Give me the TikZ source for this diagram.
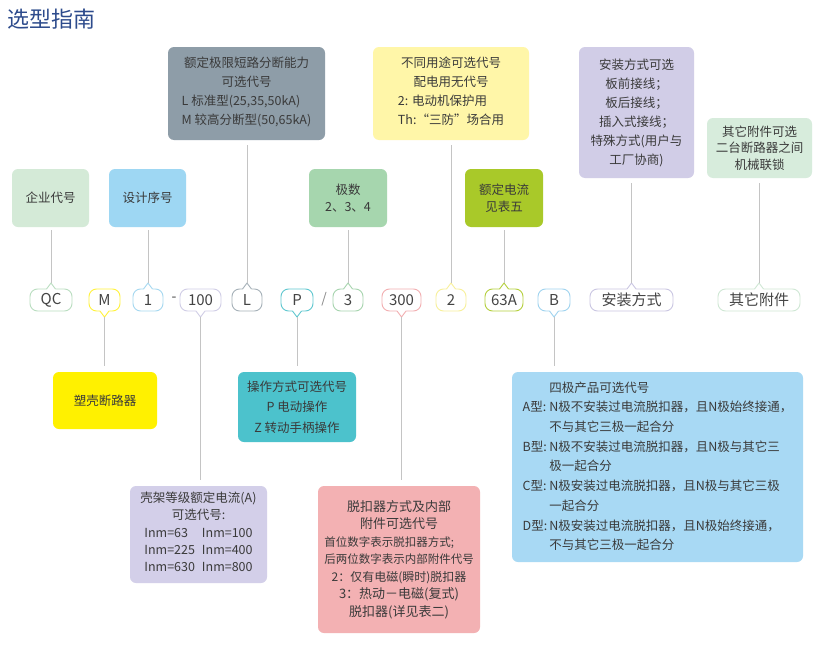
\documentclass[tikz,border=0pt]{standalone}
\usepackage{fontspec}
\setmainfont{Noto Sans CJK SC}
\definecolor{txt}{HTML}{3A3A3A}
\definecolor{tagtxt}{HTML}{444444}
\definecolor{linegray}{HTML}{C4C4C4}
\definecolor{titleblue}{HTML}{2D4B8C}
\definecolor{cGray}{HTML}{8E9DA8}
\definecolor{cYel}{HTML}{FFF6A8}
\definecolor{cPur}{HTML}{D1CDE7}
\definecolor{cLGreen}{HTML}{D7ECDC}
\definecolor{cLime}{HTML}{A9C929}
\definecolor{cGreen}{HTML}{A6D6AE}
\definecolor{cQiye}{HTML}{D4EAD7}
\definecolor{cSheji}{HTML}{9ED7F3}
\definecolor{cYellow}{HTML}{FFF100}
\definecolor{cTeal}{HTML}{4CC2CC}
\definecolor{cKejia}{HTML}{D3CFE9}
\definecolor{cPink}{HTML}{F3B1B3}
\definecolor{cSiji}{HTML}{A8D9F4}
\definecolor{oQC}{HTML}{B9DDC0}
\definecolor{oM}{HTML}{FFF23A}
\definecolor{o1}{HTML}{A5D8F0}
\definecolor{o100}{HTML}{D0CDE6}
\definecolor{oL}{HTML}{A5B0B8}
\definecolor{oP}{HTML}{5EC7CF}
\definecolor{o3}{HTML}{A6D4AE}
\definecolor{o300}{HTML}{F2AEB0}
\definecolor{o2}{HTML}{F8F09A}
\definecolor{o63}{HTML}{B4CF3C}
\definecolor{oB}{HTML}{9FD3EF}
\definecolor{oAZ}{HTML}{CAC6E2}
\definecolor{oQT}{HTML}{CFE7D4}
\newcommand\tagU[2]{%
  \draw[draw=#2,line width=0.9pt,rounded corners=7.5pt] (#1.north west) rectangle (#1.south east);
  \fill[white] ([xshift=-4.5pt,yshift=-1.2pt]#1.north) -- ([xshift=-4.5pt,yshift=0.3pt]#1.north) -- ([yshift=6pt]#1.north) -- ([xshift=4.5pt,yshift=0.3pt]#1.north) -- ([xshift=4.5pt,yshift=-1.2pt]#1.north) -- cycle;
  \draw[draw=#2,line width=0.9pt,line join=round] ([xshift=-4.5pt]#1.north) -- ([yshift=6pt]#1.north) -- ([xshift=4.5pt]#1.north);
  \coordinate (#1-tip) at ([yshift=6pt]#1.north);}
\newcommand\tagD[2]{%
  \draw[draw=#2,line width=0.9pt,rounded corners=7.5pt] (#1.north west) rectangle (#1.south east);
  \fill[white] ([xshift=-4.5pt,yshift=1.2pt]#1.south) -- ([xshift=-4.5pt,yshift=-0.3pt]#1.south) -- ([yshift=-6pt]#1.south) -- ([xshift=4.5pt,yshift=-0.3pt]#1.south) -- ([xshift=4.5pt,yshift=1.2pt]#1.south) -- cycle;
  \draw[draw=#2,line width=0.9pt,line join=round] ([xshift=-4.5pt]#1.south) -- ([yshift=-6pt]#1.south) -- ([xshift=4.5pt]#1.south);
  \coordinate (#1-tip) at ([yshift=-6pt]#1.south);}
\newcommand\smallline{\fontsize{11.5}{17.5}\selectfont}
\newcommand\midline{\fontsize{12}{17.5}\selectfont}
\newcommand\firstline[1]{\makebox[13em][l]{#1}}
\begin{document}
\begin{tikzpicture}[x=1pt,y=-1pt,
  box/.style={rounded corners=6pt, inner sep=0pt, outer sep=0pt, text=txt, align=center,
    font=\fontsize{12.5}{19}\selectfont},
  tagn/.style={inner sep=0pt, outer sep=0pt, minimum height=22pt, text=tagtxt,
    font=\fontsize{15}{17}\selectfont},
  sepn/.style={inner sep=0pt, text=tagtxt, font=\fontsize{14}{16}\selectfont},
  conn/.style={draw=linegray, line width=0.9pt}]
\useasboundingbox (0,0) rectangle (836,656);
\fill[white] (0,0) rectangle (836,656);

\node[anchor=west, inner sep=0pt, text=titleblue, font=\fontsize{22}{24}\selectfont] (title) at (7,19) {选型指南};

% top boxes
\node[box, fill=cQiye, minimum width=77pt, minimum height=58pt] (qiye) at (50.5,198) {企业代号};
\node[box, fill=cSheji, minimum width=77pt, minimum height=58pt] (sheji) at (147.5,198) {设计序号};
\node[box, fill=cGray, minimum width=157pt, minimum height=93pt] (duanlu) at (246.5,93.5)
  {额定极限短路分断能力\\可选代号\\\begin{tabular}[t]{@{}l@{}}L 标准型(25,35,50kA)\\M 较高分断型(50,65kA)\end{tabular}};
\node[box, fill=cGreen, minimum width=78pt, minimum height=58pt, font=\fontsize{12.5}{16.5}\selectfont] (jishu) at (348,198) {极数\\2、3、4};
\node[box, fill=cYel, minimum width=156pt, minimum height=93pt] (yongtu) at (451,93.5)
  {不同用途可选代号\\配电用无代号\\\begin{tabular}[t]{@{}l@{}}2: 电动机保护用\\Th:“三防”场合用\end{tabular}};
\node[box, fill=cLime, minimum width=78pt, minimum height=58pt, font=\fontsize{12.5}{17}\selectfont] (dianliu) at (504,198) {额定电流\\见表五};
\node[box, fill=cPur, minimum width=115pt, minimum height=131pt] (anzhuang) at (636.5,112.5)
  {安装方式可选\\板前接线；\\板后接线；\\插入式接线；\\特殊方式(用户与\\工厂协商)};
\node[box, fill=cLGreen, minimum width=105pt, minimum height=60pt, font=\fontsize{12.5}{16.5}\selectfont] (qita) at (759.5,148)
  {其它附件可选\\二台断路器之间\\机械联锁};

% tags
\node[tagn, minimum width=42pt] (qc) at (51,300) {QC};
\node[tagn, minimum width=31pt] (m) at (104.5,300) {M};
\node[tagn, minimum width=30pt] (t1) at (148,300) {1};
\node[sepn] (dash) at (174,299) {-};
\node[tagn, minimum width=41pt] (t100) at (200.5,300) {100};
\node[tagn, minimum width=30pt] (tl) at (247,300) {L};
\node[tagn, minimum width=32pt] (tp) at (297,300) {P};
\node[sepn, text=linegray!70!black] (slash) at (324,299) {/};
\node[tagn, minimum width=30pt] (t3) at (348,300) {3};
\node[tagn, minimum width=39pt] (t300) at (401.5,300) {300};
\node[tagn, minimum width=30pt] (t2) at (451,300) {2};
\node[tagn, minimum width=38pt] (t63) at (504,300) {63A};
\node[tagn, minimum width=32pt] (tb) at (554,300) {B};
\node[tagn, minimum width=83pt] (taz) at (631.5,300) {安装方式};
\node[tagn, minimum width=82pt] (tqt) at (759,300) {其它附件};

\tagU{qc}{oQC}
\tagD{m}{oM}
\tagU{t1}{o1}
\tagD{t100}{o100}
\tagU{tl}{oL}
\tagD{tp}{oP}
\tagU{t3}{o3}
\tagD{t300}{o300}
\tagU{t2}{o2}
\tagU{t63}{o63}
\tagD{tb}{oB}
\tagU{taz}{oAZ}
\tagU{tqt}{oQT}

% bottom boxes
\node[box, fill=cYellow, minimum width=104pt, minimum height=57pt] (suke) at (105,400.5) {塑壳断路器};
\node[box, fill=cTeal, minimum width=118pt, minimum height=70pt, font=\fontsize{12.5}{20.5}\selectfont] (caozuo) at (297,407)
  {操作方式可选代号\\P 电动操作\\Z 转动手柄操作};
\node[box, fill=cKejia, minimum width=137pt, minimum height=97pt, font=\fontsize{12.5}{17.3}\selectfont] (kejia) at (198.5,534.5)
  {壳架等级额定电流(A)\\可选代号:\\\begin{tabular}[t]{@{}l@{\hspace{7pt}}l@{}}Inm=63 & Inm=100\\Inm=225 & Inm=400\\Inm=630 & Inm=800\end{tabular}};
\node[box, fill=cPink, minimum width=162pt, minimum height=147pt, font=\fontsize{13}{17.5}\selectfont] (tuokou) at (399,559.5)
  {脱扣器方式及内部\\附件可选代号\\\smallline\firstline{首位数字表示脱扣器方式;}\\\smallline 后两位数字表示内部附件代号\\\midline 2：仅有电磁(瞬时)脱扣器\\3：热动－电磁(复式)\\脱扣器(详见表二)};
\node[box, fill=cSiji, minimum width=291pt, minimum height=190pt, font=\fontsize{12.5}{19.7}\selectfont] (siji) at (657.5,467)
  {\begin{tabular}{@{}l@{\hspace{2pt}}l@{}}
   & 四极产品可选代号\\
   A型: & N极不安装过电流脱扣器，且N极始终接通，\\
   & 不与其它三极一起合分\\
   B型: & N极不安装过电流脱扣器，且N极与其它三\\
   & 极一起合分\\
   C型: & N极安装过电流脱扣器，且N极与其它三极\\
   & 一起合分\\
   D型: & N极安装过电流脱扣器，且N极始终接通，\\
   & 不与其它三极一起合分
   \end{tabular}};

% connectors from top
\draw[conn, shorten <=3pt] (qiye.south -| qc-tip) -- (qc-tip);
\draw[conn, shorten <=3pt] (sheji.south -| t1-tip) -- (t1-tip);
\draw[conn, shorten <=5pt] (duanlu.south -| tl-tip) -- (tl-tip);
\draw[conn, shorten <=3pt] (jishu.south -| t3-tip) -- (t3-tip);
\draw[conn, shorten <=5pt] (yongtu.south -| t2-tip) -- (t2-tip);
\draw[conn, shorten <=3pt] (dianliu.south -| t63-tip) -- (t63-tip);
\draw[conn, shorten <=5pt] (anzhuang.south -| taz-tip) -- (taz-tip);
\draw[conn, shorten <=5pt] (qita.south -| tqt-tip) -- (tqt-tip);
% connectors to bottom
\draw[conn, shorten >=6pt] (m-tip) -- (m-tip |- suke.north);
\draw[conn, shorten >=6pt] (t100-tip) -- (t100-tip |- kejia.north);
\draw[conn, shorten >=6pt] (tp-tip) -- (tp-tip |- caozuo.north);
\draw[conn, shorten >=6pt] (t300-tip) -- (t300-tip |- tuokou.north);
\draw[conn, shorten >=6pt] (tb-tip) -- (tb-tip |- siji.north);
\end{tikzpicture}
\end{document}
